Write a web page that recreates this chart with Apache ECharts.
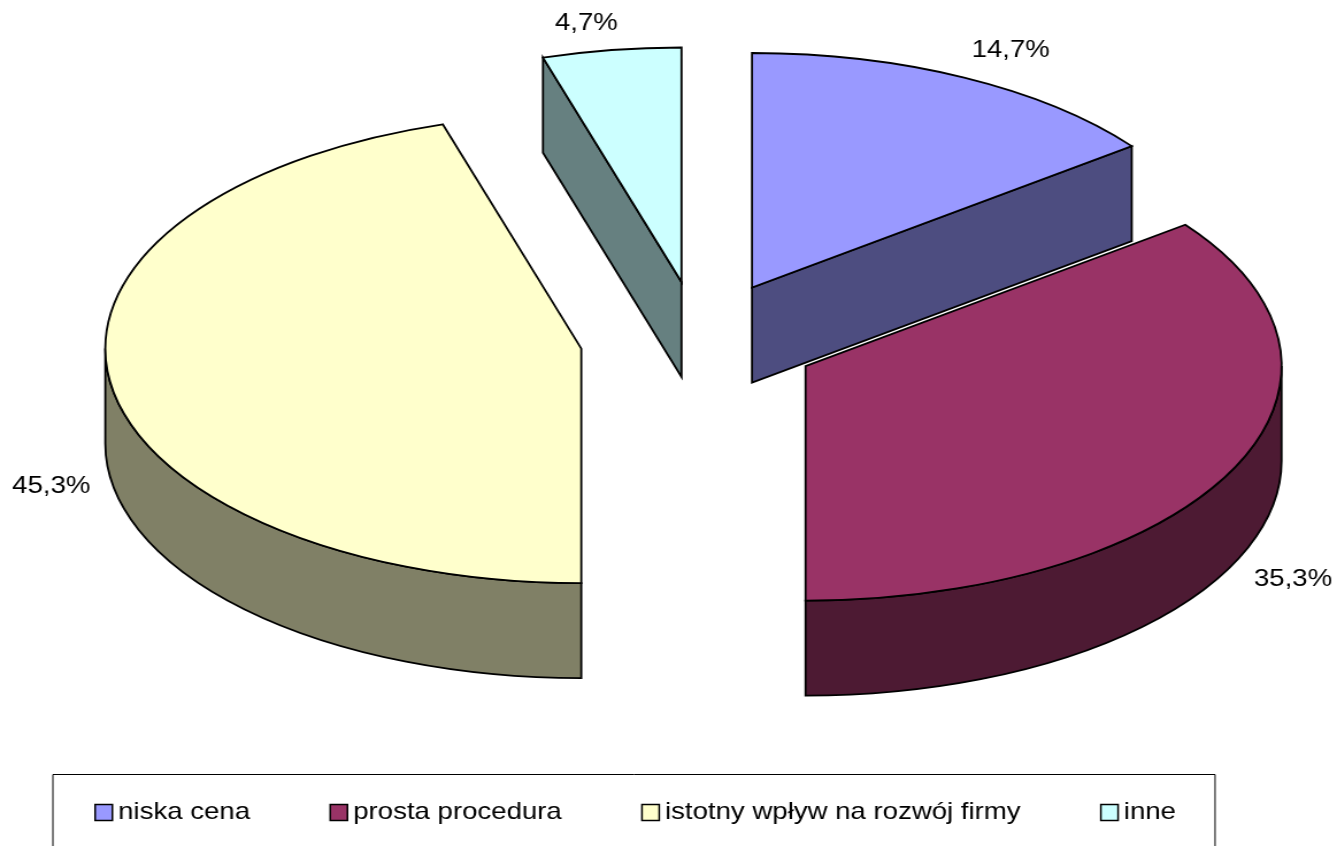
<!DOCTYPE html>
<html><head><meta charset="utf-8">
<style>html,body{margin:0;padding:0;background:#fff;overflow:hidden}
#c{width:1163px;height:846px;transform-origin:0 0;transform:scaleX(1.1496)}</style>
<script src="https://cdn.jsdelivr.net/npm/echarts@6/dist/echarts.min.js"></script>
</head><body><div id="c"></div>
<script>
// Data
const categories = ['niska cena', 'prosta procedura', 'istotny wpływ na rozwój firmy', 'inne'];
const values = [14.7, 35.3, 45.3, 4.7];
const topColors = ['#9999FF', '#993366', '#FFFFCC', '#CCFFFF'];
const sideColors = ['#4D4D80', '#4D1A33', '#808066', '#668080'];
const paintOrder = [1, 4, 3, 2];
const labelNudge = [[19, 0], [6, 0], [2, 4], [-16, 3]];

// Layout (drawing is horizontally stretched by K, as in the original)
const K = 1337 / 1163, CX = 699 / K, CY = 340, RX = 476 / K, RY = 234.5, DEPTH = 95, EXPLODE = 0.25, LABEL_R = 1.13;
const total = values.reduce((a, b) => a + b, 0);
const rad = d => d * Math.PI / 180;

function renderSlice(params, api) {
  const i = params.seriesIndex, v = api.value(0);
  const before = values.slice(0, i).reduce((a, b) => a + b, 0);
  const t0 = before / total * 360, t1 = t0 + v / total * 360, mid = (t0 + t1) / 2;
  const ax = CX + EXPLODE * RX * Math.sin(rad(mid)), ay = CY - EXPLODE * RY * Math.cos(rad(mid));
  const px = t => ax + RX * Math.sin(rad(t)), py = t => ay - RY * Math.cos(rad(t));
  const stroke = {stroke: '#000', lineWidth: 1.8, lineJoin: 'miter'};
  const children = [];
  const add = (d, fill) => children.push({type: 'path', shape: {pathData: d}, style: Object.assign({fill}, stroke)});
  // cut faces
  const face = t => add(`M${ax} ${ay}L${px(t)} ${py(t)}L${px(t)} ${py(t) + DEPTH}L${ax} ${ay + DEPTH}Z`, sideColors[i]);
  if (Math.sin(rad(t0)) < -1e-6) face(t0);
  if (Math.sin(rad(t1)) > 1e-6) face(t1);
  // outer wall
  const w0 = Math.max(t0, 90), w1 = Math.min(t1, 270);
  if (w1 > w0) {
    add(`M${px(w0)} ${py(w0)}A${RX} ${RY} 0 0 1 ${px(w1)} ${py(w1)}L${px(w1)} ${py(w1) + DEPTH}A${RX} ${RY} 0 0 0 ${px(w0)} ${py(w0) + DEPTH}Z`, sideColors[i]);
  }
  // top
  add(`M${ax} ${ay}L${px(t0)} ${py(t0)}A${RX} ${RY} 0 ${t1 - t0 > 180 ? 1 : 0} 1 ${px(t1)} ${py(t1)}Z`, topColors[i]);
  // label
  const lower = Math.cos(rad(mid)) < 0 ? DEPTH : 0;
  children.push({
    type: 'text',
    x: ax + LABEL_R * RX * Math.sin(rad(mid)) + labelNudge[i][0] / K,
    y: ay - LABEL_R * RY * Math.cos(rad(mid)) + lower + labelNudge[i][1],
    style: {text: v.toFixed(1).replace('.', ',') + '%', fill: '#000', fontFamily: '"Liberation Sans"', fontSize: 24, align: 'center', verticalAlign: 'middle'}
  });
  return {type: 'group', children};
}

const chart = echarts.init(document.getElementById('c'), null, {renderer: 'canvas'});
chart.setOption({
  animation: false,
  backgroundColor: '#fff',
  legend: {
    data: categories, left: 46, top: 774.5, orient: 'horizontal', icon: 'rect',
    itemWidth: 15, itemHeight: 16, itemGap: 69,
    padding: [26, 34, 23, 36], borderColor: '#000', borderWidth: 1, backgroundColor: '#fff',
    itemStyle: {borderColor: '#000', borderWidth: 1.5},
    textStyle: {color: '#000', fontFamily: '"Liberation Sans"', fontSize: 24},
    selectedMode: false
  },
  series: categories.map((name, i) => ({
    type: 'custom', name, coordinateSystem: 'none', z: paintOrder[i], silent: true,
    itemStyle: {color: topColors[i]},
    renderItem: renderSlice,
    data: [[values[i]]]
  }))
});
</script></body></html>
